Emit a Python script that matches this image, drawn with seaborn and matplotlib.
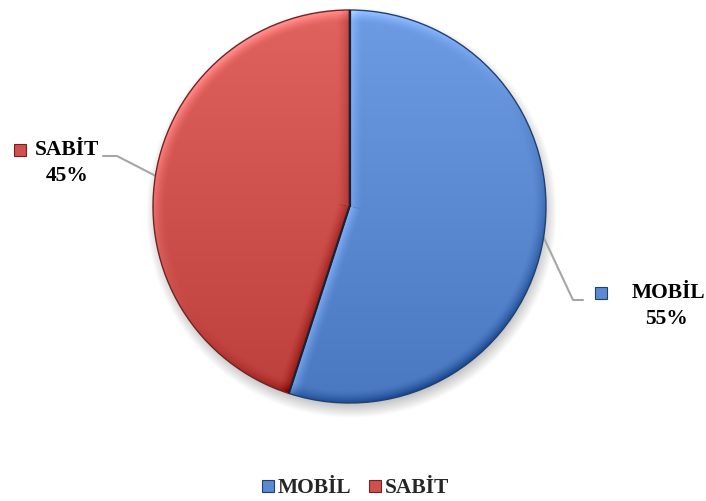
import numpy as np
import matplotlib
matplotlib.use("Agg")
import matplotlib.pyplot as plt
import seaborn as sns
from matplotlib.lines import Line2D

# Data
categories = ["MOBİL", "SABİT"]
shares = [55, 45]
pct_labels = ["55%", "45%"]

sns.set_theme(style="white")
plt.rcParams["font.family"] = ["Liberation Serif", "DejaVu Serif"]

palette = sns.color_palette(["#5B8AD2", "#CF514E"])
edge_cols = ["#22406e", "#6e2422"]

W, H = 706, 501
fig = plt.figure(figsize=(W / 100, H / 100), dpi=100)
ax = fig.add_axes([0, 0, 1, 1])

cx, cy, R = 349.5, 294.5, 196.5

# soft drop shadow under the pie
yy, xx = np.mgrid[0:H, 0:W] + 0.5
ds = np.hypot(xx - (cx + 2), yy - (cy - 6))
blur = 9.0
sh_alpha = np.clip((R + blur - ds) / (2 * blur), 0, 1) * 0.45
shadow = np.zeros((H, W, 4))
shadow[..., :3] = 0.35
shadow[..., 3] = sh_alpha
ax.imshow(shadow, extent=(0, W, 0, H), origin="lower", zorder=0, interpolation="bilinear")

wedges, _ = ax.pie(shares, colors=palette, startangle=90, counterclock=False,
                   center=(cx, cy), radius=R, frame=True,
                   wedgeprops=dict(linewidth=0))

# bevel / lighting overlay for each slice
light = np.array([-0.55, 0.83])
dx, dy = xx - cx, yy - cy
d = np.hypot(dx, dy) + 1e-9
bev = 13.0
for w, base, ec in zip(wedges, palette, edge_cols):
    shade = 0.07 * (dy / R)
    # outer rim
    e = R - d
    f = np.clip(1 - e / bev, 0, 1) ** 1.5
    s = (dx / d) * light[0] + (dy / d) * light[1]
    shade = shade + 0.22 * s * f
    # radial edges (half-lines from the centre only)
    mid = np.deg2rad((w.theta1 + w.theta2) / 2)
    mvec = np.array([np.cos(mid), np.sin(mid)])
    for th in (w.theta1, w.theta2):
        a = np.deg2rad(th)
        u = np.array([np.cos(a), np.sin(a)])
        n = np.array([np.sin(a), -np.cos(a)])
        if n @ mvec > 0:
            n = -n
        along = dx * u[0] + dy * u[1]
        p = np.abs(dx * n[0] + dy * n[1])
        fr = np.clip(1 - p / bev, 0, 1) ** 1.5 * (along > 0)
        shade = shade + 0.22 * (n @ light) * fr
    rgb = np.array(base)[None, None, :] + shade[..., None]
    img = np.zeros((H, W, 4))
    img[..., :3] = np.clip(rgb, 0, 1)
    img[..., 3] = 1.0
    im = ax.imshow(img, extent=(0, W, 0, H), origin="lower", zorder=2,
                   interpolation="bilinear")
    im.set_clip_path(w)
    w.set_edgecolor(ec)
    w.set_linewidth(1.0)
    w.set_facecolor("none")
    w.set_zorder(3)

# separator lines between slices
for w in wedges:
    a = np.deg2rad(w.theta1)
    ax.plot([cx, cx + R * np.cos(a)], [cy, cy + R * np.sin(a)],
            color="#1c2230", lw=1.6, zorder=4, solid_capstyle="butt")

# data labels with leader lines
label_pos = {
    "MOBİL": dict(elbow=(573, 201), end=(583, 201), mark=(601, 208),
                  name=(668, 208), pct=(667, 182)),
    "SABİT": dict(elbow=(117, 345), end=(103, 345), mark=(19.5, 351),
                  name=(67, 351), pct=(67, 325)),
}
for w, cat, pct, base, ec in zip(wedges, categories, pct_labels, palette, edge_cols):
    mid = np.deg2rad((w.theta1 + w.theta2) / 2)
    px, py = cx + R * np.cos(mid), cy + R * np.sin(mid)
    lp = label_pos[cat]
    ax.plot([px, lp["elbow"][0], lp["end"][0]], [py, lp["elbow"][1], lp["end"][1]],
            color="#a6a6a6", lw=1.5, zorder=1)
    ax.plot(*lp["mark"], marker="s", ms=8, color=base, mec=ec, mew=0.8, zorder=5)
    ax.text(*lp["name"], cat, ha="center", va="center", fontsize=15.5,
            fontweight="bold", color="black")
    ax.text(*lp["pct"], pct, ha="center", va="center", fontsize=15.5,
            fontweight="bold", color="black")

handles = [Line2D([], [], marker="s", ms=8, ls="none", color=c, mec=e, mew=0.8)
           for c, e in zip(palette, edge_cols)]
leg = ax.legend(handles, categories, loc="center", bbox_to_anchor=(355 / W, 1 - 488 / H),
                ncol=2, frameon=False, handlelength=0.6, handletextpad=0.15,
                columnspacing=0.8, borderpad=0,
                prop=dict(family=["Liberation Serif"], weight="bold", size=15.5))

ax.set_xlim(0, W)
ax.set_ylim(0, H)
ax.set_aspect("equal")
ax.axis("off")

fig.savefig("out.png", dpi=100, facecolor="white")
